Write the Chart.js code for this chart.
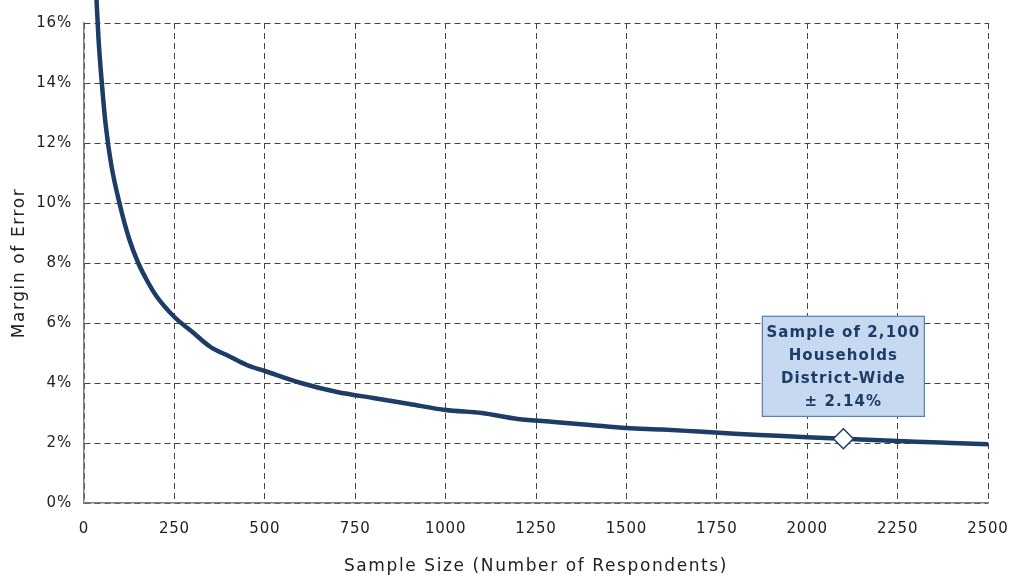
<!DOCTYPE html>
<html>
<head>
<meta charset="utf-8">
<script src="https://cdn.jsdelivr.net/npm/chart.js@4"></script>
<style>
  html, body { margin: 0; padding: 0; background: #fff; }
  #wrap { width: 1011px; height: 577px; position: relative; }
</style>
</head>
<body>
<div id="wrap"><canvas id="c"></canvas></div>
<script>
// Sample sizes (number of respondents)
const sampleSizes = [30, 40, 50, 60, 75, 100, 125, 150, 175, 200, 250, 300, 350, 400, 450, 500,
  600, 700, 800, 900, 1000, 1100, 1200, 1300, 1400, 1500, 1600, 1700, 1800, 1900, 2000,
  2100, 2200, 2300, 2400, 2500];
// Margin of error (%)
const marginOfError = [17.9, 15.5, 13.9, 12.6, 11.3, 9.9, 8.8, 8.0, 7.4, 6.9, 6.2, 5.7, 5.2, 4.9, 4.6, 4.4,
  4.0, 3.7, 3.5, 3.3, 3.1, 3.0, 2.8, 2.7, 2.6, 2.5, 2.45, 2.38, 2.31, 2.25, 2.19,
  2.14, 2.09, 2.04, 2.0, 1.96];
// Highlighted point
const highlightN = [2100];
const highlightMoe = [2.14];
// Callout text
const calloutLines = ["Sample of 2,100", "Households", "District-Wide", "\u00B1 2.14%"];
// Axis tick values
const xTicks = [0, 250, 500, 750, 1000, 1250, 1500, 1750, 2000, 2250, 2500];
const yTicks = [0, 2, 4, 6, 8, 10, 12, 14, 16];

const NAVY = '#1d3c66';

const curveData = sampleSizes.map((n, i) => ({ x: n, y: marginOfError[i] }));
const pointData = highlightN.map((n, i) => ({ x: n, y: highlightMoe[i] }));

const calloutPlugin = {
  id: 'callout',
  afterDatasetsDraw(chart) {
    const { ctx, scales } = chart;
    const cx = scales.x.getPixelForValue(highlightN[0]);
    const top = scales.y.getPixelForValue(6.24);
    const bottom = scales.y.getPixelForValue(2.87);
    const w = 163;
    ctx.save();
    ctx.fillStyle = '#c6d9f0';
    ctx.strokeStyle = '#5a7fb3';
    ctx.lineWidth = 1.2;
    ctx.fillRect(cx - w / 2, top, w, bottom - top);
    ctx.strokeRect(cx - w / 2 + 0.5, top + 0.5, w - 1, bottom - top - 1);
    ctx.fillStyle = NAVY;
    ctx.font = 'bold 15px "DejaVu Sans"';
    ctx.letterSpacing = '1.1px';
    ctx.textAlign = 'center';
    ctx.textBaseline = 'middle';
    const lh = 23;
    const startY = top + 17;
    calloutLines.forEach((t, i) => ctx.fillText(t, cx, startY + i * lh));
    ctx.restore();
  }
};

const spacingPlugin = {
  id: 'spacing',
  beforeDraw(chart) { chart.ctx.letterSpacing = '0.8px'; }
};

function wrapTitle(s) {
  if (s._wrapped) return;
  s._wrapped = true;
  const orig = s.drawTitle;
  s.drawTitle = function () {
    const ctx = this.ctx;
    const prev = ctx.letterSpacing;
    ctx.letterSpacing = '1.6px';
    orig.apply(this, arguments);
    ctx.letterSpacing = prev;
  };
}

new Chart(document.getElementById('c'), {
  type: 'line',
  data: {
    datasets: [
      {
        label: 'Highlight',
        data: pointData,
        showLine: false,
        pointStyle: 'rectRot',
        pointRadius: 10,
        pointBackgroundColor: '#ffffff',
        pointBorderColor: NAVY,
        pointBorderWidth: 1.5,
        order: 0
      },
      {
        label: 'Margin of Error',
        data: curveData,
        borderColor: NAVY,
        borderWidth: 4.5,
        pointRadius: 0,
        cubicInterpolationMode: 'monotone',
        clip: false,
        order: 1
      }
    ]
  },
  options: {
    responsive: true,
    maintainAspectRatio: false,
    animation: false,
    layout: { padding: { left: 0, right: 23, top: 23, bottom: 0 } },
    plugins: { legend: { display: false }, tooltip: { enabled: false } },
    scales: {
      x: {
        type: 'linear',
        min: 0, max: 2500,
        afterBuildTicks(s) { s.ticks = xTicks.map(v => ({ value: v })); },
        afterFit(s) { s.height = 74; s.paddingRight = 0; s.paddingLeft = 0; wrapTitle(s); },
        ticks: {
          color: '#222',
          font: { family: '"DejaVu Sans"', size: 15 },
          padding: 17,
          maxRotation: 0,
          autoSkip: false,
          callback: v => String(v)
        },
        grid: { color: '#444', lineWidth: 1, drawTicks: false },
        border: { display: true, color: '#7f7f7f', width: 1.5, dash: [6, 4] },
        title: {
          display: true,
          text: 'Sample Size (Number of Respondents)',
          color: '#222',
          font: { family: '"DejaVu Sans"', size: 17 },
          padding: { top: 0, bottom: 0 }
        }
      },
      y: {
        type: 'linear',
        min: 0, max: 16,
        afterBuildTicks(s) { s.ticks = yTicks.map(v => ({ value: v })); },
        afterFit(s) { s.width = 84; s.paddingTop = 0; s.paddingBottom = 0; wrapTitle(s); },
        ticks: {
          color: '#222',
          font: { family: '"DejaVu Sans"', size: 15 },
          padding: 12,
          callback: v => v + '%'
        },
        grid: { color: '#444', lineWidth: 1, drawTicks: false },
        border: { display: true, color: '#7f7f7f', width: 1.5, dash: [6, 4] },
        title: {
          display: true,
          text: 'Margin of Error',
          color: '#222',
          font: { family: '"DejaVu Sans"', size: 17 },
          padding: { top: 9, bottom: 0 }
        }
      }
    }
  },
  plugins: [spacingPlugin, calloutPlugin]
});
</script>
</body>
</html>
